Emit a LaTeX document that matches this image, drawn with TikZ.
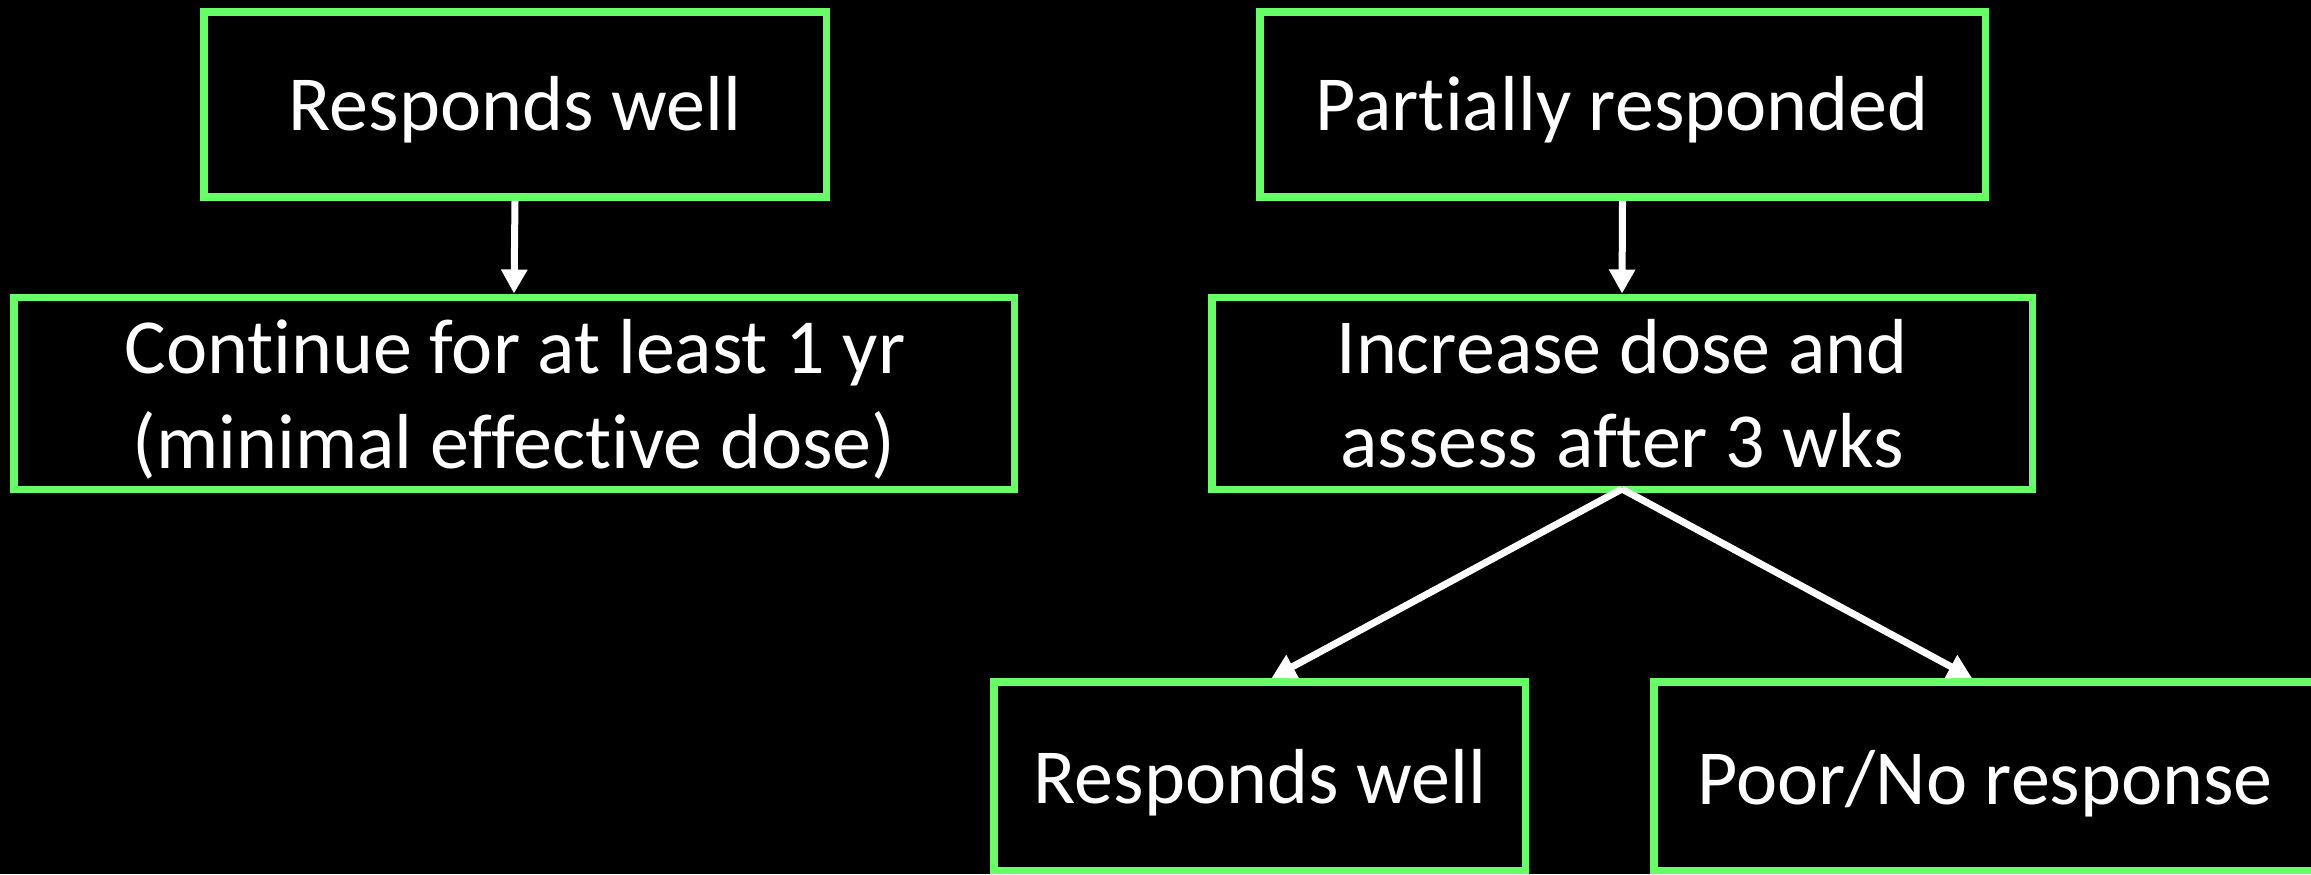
\documentclass[tikz,border=0pt]{standalone}
\usepackage{fontspec}
\setmainfont{Carlito}[Ligatures=NoCommon]
\usetikzlibrary{arrows.meta}
\definecolor{boxgreen}{RGB}{102,255,102}
\begin{document}
\begin{tikzpicture}[x=0.5pt,y=-0.5pt,
  flowbox/.style={draw=boxgreen, line width=3.75pt, fill=black, rectangle, inner sep=0pt},
  boxtext/.style={text=white, font=\fontsize{39pt}{47.5pt}\selectfont, anchor=base, inner sep=0pt},
  flowarrow/.style={draw=white, line width=3.5pt, -{Triangle[width=12.5pt,length=12pt]}}]
\useasboundingbox (0,0) rectangle (2311,874);
\fill[black] (0,0) rectangle (2311,874);
\clip (0,0) rectangle (2311,874);
% boxes
\node[flowbox, minimum width=311.25pt, minimum height=92.5pt] (b1) at (515,104.5) {};
\node[flowbox, minimum width=362.75pt, minimum height=92.5pt] (b3) at (1622.5,104.5) {};
\node[flowbox, minimum width=500.25pt, minimum height=96pt] (b2) at (514,393.25) {};
\node[flowbox, minimum width=410.25pt, minimum height=96pt] (b4) at (1622,393.25) {};
\node[flowbox, minimum width=265.75pt, minimum height=94.25pt] (b5) at (1259.5,776) {};
\node[flowbox, minimum width=330.25pt, minimum height=94.25pt] (b6) at (1984,776) {};
% texts
\node[boxtext] (t1) at (515,130) {Responds well};
\node[boxtext] (t3) at (1622,130) {Partially responded};
\node[boxtext] (t2a) at (515,373) {Continue for at least 1 yr};
\node[boxtext] (t2b) at (514,468) {(minimal effective dose)};
\node[boxtext] (t4a) at (1622,373) {Increase dose and};
\node[boxtext] (t4b) at (1622,467) {assess after 3 wks};
\node[boxtext] (t5) at (1260,803) {Responds well};
\node[boxtext] (t6) at (1985,804) {Poor/No response};
% connectors
\draw[flowarrow] (b1.south) -- (b2.north);
\draw[flowarrow] (b3.south) -- (b4.north);
\draw[flowarrow] ([yshift=2pt]b4.south) -- ([xshift=6pt]b5.north);
\draw[flowarrow] ([yshift=2pt]b4.south) -- ([xshift=-6pt]b6.north);
\end{tikzpicture}
\end{document}
